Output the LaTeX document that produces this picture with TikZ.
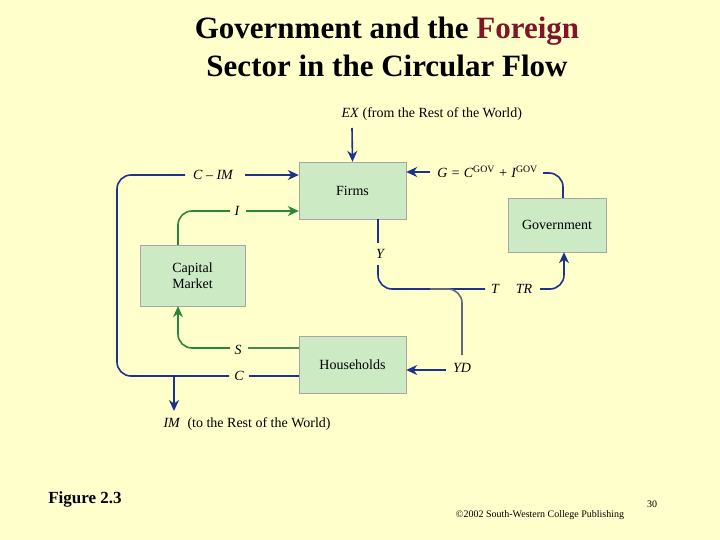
\documentclass[tikz,border=0pt]{standalone}
\usepackage{fontspec}
\setmainfont{Liberation Serif}
\usetikzlibrary{arrows.meta}
\definecolor{bg}{RGB}{255,255,204}
\definecolor{boxc}{RGB}{204,234,196}
\definecolor{navy}{RGB}{30,50,140}
\definecolor{grn}{RGB}{40,135,60}
\definecolor{dred}{RGB}{128,20,40}
\begin{document}
\begin{tikzpicture}[x=1pt,y=-1pt,
 box/.style={draw=gray!70,fill=boxc,inner sep=0pt,font=\fontsize{14}{16}\selectfont,align=center},
 lbl/.style={font=\fontsize{14}{15}\selectfont\itshape,inner sep=2pt},
 bl/.style={draw=navy,line width=1.6pt,rounded corners=14pt},
 gl/.style={draw=grn,line width=1.6pt,rounded corners=14pt},
 tip/.style={-{Stealth[length=11pt,width=10pt]}}]
\useasboundingbox[fill=bg] (0,0) rectangle (720,540);
\node[font=\fontsize{31}{38}\selectfont\bfseries,align=center] (title) at (387,47) {Government and the \textcolor{dred}{Foreign}\\Sector in the Circular Flow};
\node[box,minimum width=107pt,minimum height=57pt] (firms) at (352.5,190.5) {Firms};
\node[box,minimum width=98pt,minimum height=54pt] (gov) at (557,225) {Government};
\node[box,minimum width=105pt,minimum height=61pt] (cap) at (192.5,275.5) {Capital\\Market};
\node[box,minimum width=107pt,minimum height=57pt] (hh) at (352.5,364.5) {Households};
% labels
\node[font=\fontsize{14}{15}\selectfont,anchor=west] (ex) at (338,114) {\textit{EX} (from the Rest of the World)};
\node[font=\fontsize{14}{15}\selectfont,anchor=west] (im) at (160,424) {\textit{IM}\ \ (to the Rest of the World)};
\node[lbl] (cim) at (213,175) {C -- IM};
\node[lbl] (il) at (237,211) {I};
\node[lbl] (sl) at (238,350) {S};
\node[lbl] (cl) at (239,376) {C};
\node[lbl] (yl) at (380,254) {Y};
\node[lbl] (tl) at (495,289) {T};
\node[lbl] (trl) at (524,289) {TR};
\node[lbl] (ydl) at (462,368) {YD};
\node[lbl,anchor=east] (gl) at (540,172) {G = C\textsuperscript{\upshape GOV} + I\textsuperscript{\upshape GOV}};
% blue flows
\coordinate (exs) at (352,128);
\draw[navy,line width=1.6pt,tip] (exs) -- (firms.north);
\draw[bl] (hh.west |- 0,376) -- (249,376);
\draw[bl] (229,376) -- (117,376) -- (117,175) -- (185,175);
\draw[navy,line width=1.6pt,tip] (245,175) -- (firms.west |- 0,175);
\coordinate (imt) at (174,376);
\draw[navy,line width=1.6pt,tip] (imt) -- (174,411);
\draw[bl] (gov.north -| 563,0) -- (563,173) -- (543,173);
\draw[navy,line width=1.6pt,tip] (430,172) -- (firms.east |- 0,172);
\draw[bl] (firms.south -| 378,0) -- (378,243);
\draw[bl] (378,265) -- (378,289) -- (485,289);
\draw[draw=gray!70!navy,line width=1.6pt,rounded corners=14pt] (430,289) -- (462,289) -- (462,355);
\draw[navy,line width=1.6pt,tip] (446,370) -- (hh.east |- 0,370);
\draw[bl,tip] (540,289) -- (564,289) -- (gov.south -| 564,0);
% green flows
\draw[gl] (cap.north -| 178,0) -- (178,211) -- (230,211);
\draw[grn,line width=1.6pt,tip] (246,211) -- (firms.west |- 0,211);
\draw[draw=grn!60!gray,line width=1.6pt] (hh.west |- 0,348) -- (248,348);
\draw[gl,tip] (230,348) -- (178,348) -- (cap.south -| 178,0);
% footer
\node[font=\fontsize{17}{20}\selectfont\bfseries] (fig) at (85,499) {Figure 2.3};
\node[font=\fontsize{10}{12}\selectfont] (copy) at (540,515) {\textcopyright 2002 South-Western College Publishing};
\node[font=\fontsize{10}{12}\selectfont] (pg) at (652,504) {30};
\end{tikzpicture}
\end{document}
